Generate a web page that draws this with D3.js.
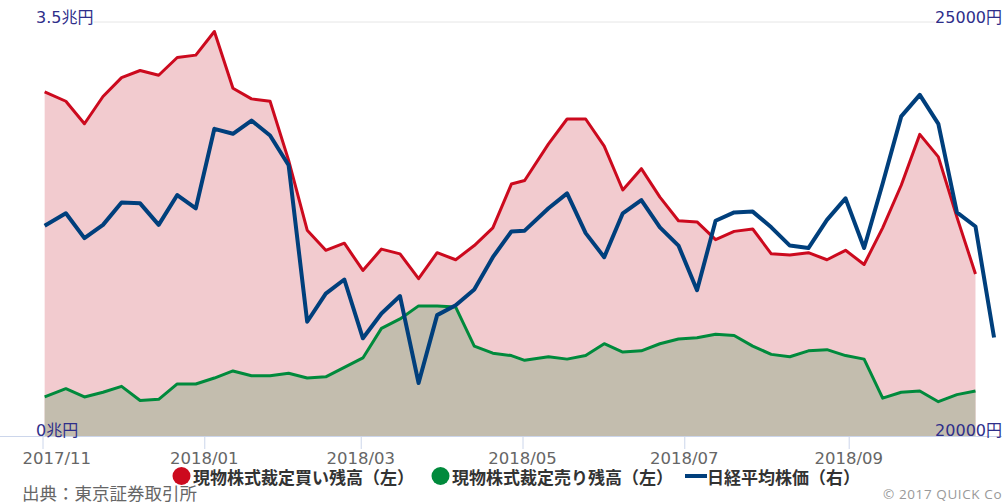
<!DOCTYPE html>
<html>
<head>
	<meta charset="utf-8">
	<script src="https://cdn.jsdelivr.net/npm/d3@7"></script>
	<style>
		body { margin: 0; background: #fff; }
		svg { display: block; font-family: "DejaVu Sans", "Noto Sans CJK JP", sans-serif; }
		.x-axis path, .x-axis line { stroke: #ccd6eb; }
		.x-axis text { fill: #666; font-size: 16.5px; font-family: "DejaVu Sans", sans-serif; }
		.y-label { fill: #2e2e8a; font-size: 16px; }
		.legend text { fill: #333; font-size: 17px; font-weight: bold; font-family: "Noto Sans CJK JP", sans-serif; }
	</style>
</head>
<body>
	<svg width="1002" height="504"></svg>
	<script>
		// last business day of each week
		var dates = [
			"2017-11-02", "2017-11-10", "2017-11-17", "2017-11-24", "2017-12-01", "2017-12-08", "2017-12-15",
			"2017-12-22", "2017-12-29", "2018-01-05", "2018-01-12", "2018-01-19", "2018-01-26", "2018-02-02",
			"2018-02-09", "2018-02-16", "2018-02-23", "2018-03-02", "2018-03-09", "2018-03-16", "2018-03-23",
			"2018-03-30", "2018-04-06", "2018-04-13", "2018-04-20", "2018-04-27", "2018-05-02", "2018-05-11",
			"2018-05-18", "2018-05-25", "2018-06-01", "2018-06-08", "2018-06-15", "2018-06-22", "2018-06-29",
			"2018-07-06", "2018-07-13", "2018-07-20", "2018-07-27", "2018-08-03", "2018-08-10", "2018-08-17",
			"2018-08-24", "2018-08-31", "2018-09-07", "2018-09-14", "2018-09-21", "2018-09-28", "2018-10-05",
			"2018-10-12", "2018-10-19", "2018-10-26"
		];

		// 現物株式裁定買い残高 (兆円)
		var buyBalance = [
			2.91, 2.83, 2.64, 2.87, 3.03, 3.09, 3.05, 3.20, 3.22, 3.42, 2.94, 2.85, 2.83,
			2.33, 1.74, 1.57, 1.63, 1.40, 1.58, 1.54, 1.33, 1.55, 1.49, 1.61, 1.76, 2.13,
			2.16, 2.47, 2.68, 2.68, 2.45, 2.08, 2.26, 2.02, 1.82, 1.81, 1.66, 1.73, 1.75,
			1.54, 1.53, 1.55, 1.49, 1.57, 1.45, 1.76, 2.12, 2.55, 2.36, 1.85, 1.37
		];

		// 現物株式裁定売り残高 (兆円)
		var sellBalance = [
			0.33, 0.40, 0.33, 0.37, 0.42, 0.30, 0.31, 0.44, 0.44, 0.49, 0.55, 0.51, 0.51,
			0.53, 0.49, 0.50, 0.58, 0.66, 0.91, 0.99, 1.10, 1.10, 1.09, 0.76, 0.70, 0.68,
			0.64, 0.67, 0.65, 0.68, 0.78, 0.71, 0.72, 0.78, 0.82, 0.83, 0.86, 0.85, 0.76,
			0.69, 0.67, 0.72, 0.73, 0.68, 0.65, 0.32, 0.37, 0.38, 0.29, 0.35, 0.38
		];

		// 日経平均株価 (円)
		var nikkei = [
			22540, 22690, 22390, 22550, 22820, 22810, 22550, 22910, 22750, 23710, 23650, 23810, 23630,
			23270, 21380, 21720, 21890, 21180, 21480, 21690, 20640, 21460, 21580, 21770, 22160, 22470,
			22480, 22750, 22930, 22450, 22160, 22690, 22850, 22520, 22300, 21760, 22600, 22700, 22710,
			22520, 22300, 22270, 22610, 22870, 22270, 23050, 23860, 24120, 23770, 22700, 22530, 21190
		];

		var leftTicks = [0, 3.5];
		var rightTicks = [20000, 25000];
		var legendItems = ["現物株式裁定買い残高（左）", "現物株式裁定売り残高（左）", "日経平均株価（右）"];

		var parseDate = d3.timeParse("%Y-%m-%d");
		var days = dates.map(parseDate);

		var svg = d3.select("svg"),
			plotTop = 22,
			plotBottom = 436;

		var x = d3.scaleTime()
			.domain([parseDate("2017-11-01"), parseDate("2018-10-29")])
			.range([42, 1002]);

		var yLeft = d3.scaleLinear().domain(leftTicks).range([plotBottom, plotTop]);
		var yRight = d3.scaleLinear().domain(rightTicks).range([plotBottom, plotTop]);

		// top grid line
		svg.append("line")
			.attr("x1", 36).attr("x2", 1002)
			.attr("y1", yLeft(3.5)).attr("y2", yLeft(3.5))
			.style("stroke", "#e6e6e6");

		var area = d3.area()
			.x(function(d, i) { return x(days[i]); })
			.y0(plotBottom)
			.y1(function(d) { return yLeft(d); });

		var leftLine = d3.line()
			.x(function(d, i) { return x(days[i]); })
			.y(function(d) { return yLeft(d); });

		var rightLine = d3.line()
			.x(function(d, i) { return x(days[i]); })
			.y(function(d) { return yRight(d); });

		svg.append("path").datum(buyBalance).attr("d", area).style("fill", "#f2cbcf");
		svg.append("path").datum(sellBalance).attr("d", area).style("fill", "#c3bdae");

		svg.append("path").datum(buyBalance).attr("d", leftLine)
			.style("fill", "none").style("stroke", "#cc0a1e").style("stroke-width", 3).style("stroke-linejoin", "round");
		svg.append("path").datum(sellBalance).attr("d", leftLine)
			.style("fill", "none").style("stroke", "#008a3c").style("stroke-width", 3).style("stroke-linejoin", "round");
		svg.append("path").datum(nikkei).attr("d", rightLine)
			.style("fill", "none").style("stroke", "#003f7c").style("stroke-width", 4).style("stroke-linejoin", "round");

		// x axis
		var xAxis = svg.append("g")
			.attr("class", "x-axis")
			.attr("transform", "translate(0," + plotBottom + ")")
			.call(d3.axisBottom(x)
				.ticks(d3.timeMonth.every(2))
				.tickFormat(d3.timeFormat("%Y/%m"))
				.tickSize(13)
				.tickPadding(3)
				.tickSizeOuter(0));
		xAxis.select(".domain").attr("d", "M-6,0.5H1002");
		xAxis.selectAll(".tick line").attr("x1", 0.5).attr("x2", 0.5);
		// first label is pushed inside the chart
		xAxis.select(".tick text").attr("text-anchor", "start").attr("x", -20);

		// y labels
		function yLabel(text, xPos, yPos, anchor) {
			var t = svg.append("text")
				.attr("class", "y-label")
				.attr("x", xPos).attr("y", yPos)
				.attr("text-anchor", anchor)
				.text(text);
			var b = t.node().getBBox();
			svg.insert("rect", "text.y-label")
				.attr("x", b.x).attr("y", yPos - 3).attr("width", b.width).attr("height", 6)
				.style("fill", "#fff");
		}
		yLabel(leftTicks[1] + "兆円", 36, yLeft(3.5) + 1, "start");
		yLabel(rightTicks[1] + "円", 1002, yRight(25000) + 1, "end");
		svg.append("text").attr("class", "y-label").attr("x", 36).attr("y", yLeft(0)).text(leftTicks[0] + "兆円");
		svg.append("text").attr("class", "y-label").attr("x", 1002).attr("y", yRight(20000))
			.attr("text-anchor", "end").text(rightTicks[0] + "円");

		// legend
		var legend = svg.append("g").attr("class", "legend");
		legend.append("circle").attr("cx", 181.5).attr("cy", 476).attr("r", 9).style("fill", "#cc0a1e");
		legend.append("text").attr("x", 193).attr("y", 476).attr("dominant-baseline", "central").text(legendItems[0]);
		legend.append("circle").attr("cx", 440.5).attr("cy", 476).attr("r", 9).style("fill", "#008a3c");
		legend.append("text").attr("x", 452).attr("y", 476).attr("dominant-baseline", "central").text(legendItems[1]);
		legend.append("line").attr("x1", 685).attr("x2", 707).attr("y1", 476).attr("y2", 476)
			.style("stroke", "#003f7c").style("stroke-width", 4);
		legend.append("text").attr("x", 707).attr("y", 476).attr("dominant-baseline", "central").text(legendItems[2]);

		// credits
		svg.append("text")
			.attr("x", 22).attr("y", 500)
			.style("font-family", "'Noto Sans CJK JP', sans-serif")
			.style("font-size", "17.5px")
			.style("fill", "#666")
			.text("出典：東京証券取引所");
		svg.append("text")
			.attr("x", 883).attr("y", 499)
			.style("font-family", "'Open Sans', sans-serif")
			.style("font-size", "13.5px")
			.style("letter-spacing", "0.6px")
			.style("fill", "#999")
			.text("© 2017 QUICK Corp.");
	</script>
</body>
</html>
